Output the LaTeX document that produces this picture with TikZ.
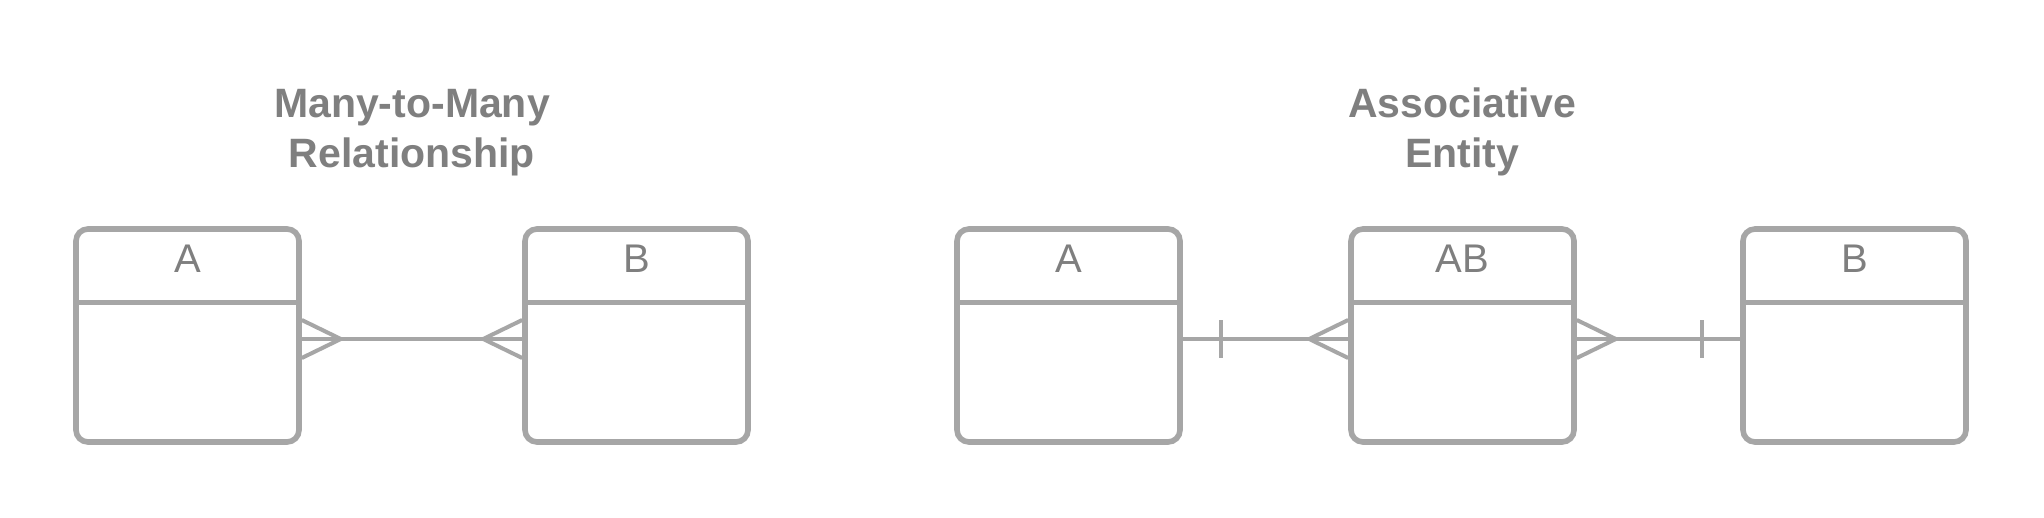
\documentclass[tikz,border=0pt]{standalone}
\usepackage{fontspec}
\setmainfont{Liberation Sans}
\definecolor{linegray}{HTML}{A6A6A6}
\definecolor{txtgray}{HTML}{7F7F7F}
\begin{document}
\begin{tikzpicture}[x=0.5pt,y=-0.5pt,
  entity/.style={draw=linegray,line width=2.8pt,rounded corners=6pt,minimum width=111.5pt,minimum height=106.5pt,inner sep=0pt},
  hdr/.style={text=txtgray,font=\fontsize{20}{24}\selectfont,anchor=base,inner sep=0pt},
  ttl/.style={text=txtgray,font=\bfseries\fontsize{20.5}{25}\selectfont,align=center,anchor=base,inner sep=0pt},
  conn/.style={draw=linegray,line width=2pt},
  sepline/.style={draw=linegray,line width=2.8pt}]
\useasboundingbox[fill=white] (0,0) rectangle (2044,518);

% titles (anchor base = last line)
\node[ttl] (t1) at (412,168) {Many-to-Many\\Relationship};
\node[ttl] (t2) at (1462,168) {Associative\\Entity};

% entities
\foreach \n/\x/\t in {a1/187.5/A, b1/636.5/B, a2/1068.5/A, ab/1462.5/AB, b2/1854.5/B}{
  \node[entity] (\n) at (\x,335.5) {};
  \draw[sepline] ([yshift=-38.2pt]\n.north west) -- ([yshift=-38.2pt]\n.north east);
  \node[hdr] (\n h) at ([yshift=-23.3pt]\n.north) {\t};
}

% many-to-many
\draw[conn] ([yshift=-1.75pt]a1.east) -- ([yshift=-1.75pt]b1.west);
\draw[conn] ([yshift=7.75pt]a1.east) -- ([xshift=19.5pt,yshift=-1.75pt]a1.east) -- ([yshift=-11.25pt]a1.east);
\draw[conn] ([yshift=7.75pt]b1.west) -- ([xshift=-19.5pt,yshift=-1.75pt]b1.west) -- ([yshift=-11.25pt]b1.west);

% associative entity
\draw[conn] ([yshift=-1.75pt]a2.east) -- ([yshift=-1.75pt]ab.west);
\draw[conn] ([xshift=19pt,yshift=7.75pt]a2.east) -- ([xshift=19pt,yshift=-11.25pt]a2.east);
\draw[conn] ([yshift=7.75pt]ab.west) -- ([xshift=-19.5pt,yshift=-1.75pt]ab.west) -- ([yshift=-11.25pt]ab.west);

\draw[conn] ([yshift=-1.75pt]ab.east) -- ([yshift=-1.75pt]b2.west);
\draw[conn] ([yshift=7.75pt]ab.east) -- ([xshift=19.5pt,yshift=-1.75pt]ab.east) -- ([yshift=-11.25pt]ab.east);
\draw[conn] ([xshift=-19pt,yshift=7.75pt]b2.west) -- ([xshift=-19pt,yshift=-11.25pt]b2.west);
\end{tikzpicture}
\end{document}
